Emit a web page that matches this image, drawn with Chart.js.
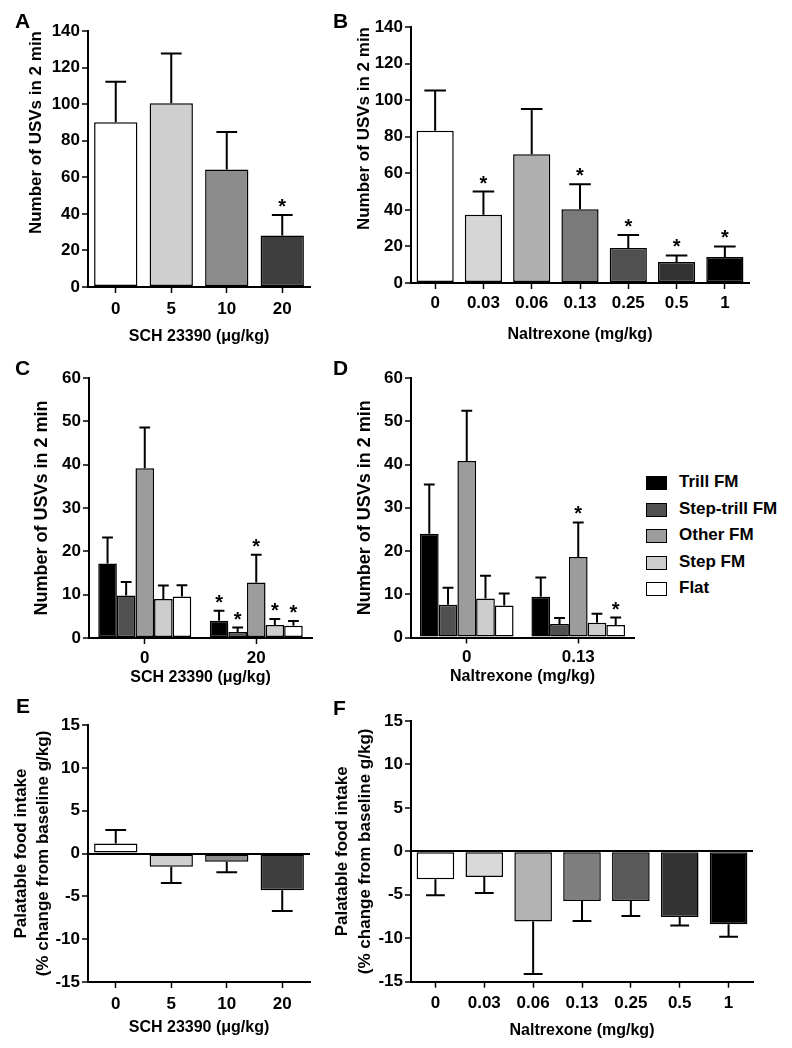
<!DOCTYPE html>
<html>
<head>
<meta charset="utf-8">
<script src="https://cdn.jsdelivr.net/npm/chart.js@4.4.0/dist/chart.umd.min.js"></script>
<style>
  body { margin: 0; background: #fff; width: 792px; height: 1048px; position: relative; overflow: hidden;
         font-family: 'Liberation Sans', Arial, sans-serif; color: #000; }
  canvas { position: absolute; }
  .letter { position: absolute; font-weight: bold; font-size: 21px; line-height: 21px; }
  .legend { position: absolute; left: 646px; top: 470px; }
  .legend .row { position: absolute; left: 0; height: 26px; width: 146px; white-space: nowrap; }
  .legend .box { position: absolute; left: 0; top: 6px; width: 19px; height: 12px; border: 1.5px solid #000; }
  .legend .txt { position: absolute; left: 33px; top: 3px; font-weight: bold; font-size: 17px; line-height: 17px; }
</style>
</head>
<body>
<canvas id="cA"></canvas>
<canvas id="cB"></canvas>
<canvas id="cC"></canvas>
<canvas id="cD"></canvas>
<canvas id="cE"></canvas>
<canvas id="cF"></canvas>
<div class="letter" style="left:15px;top:10px">A</div>
<div class="letter" style="left:333px;top:10px">B</div>
<div class="letter" style="left:15px;top:357px">C</div>
<div class="letter" style="left:333px;top:357px">D</div>
<div class="letter" style="left:16px;top:695px">E</div>
<div class="letter" style="left:333px;top:697px">F</div>
<div class="legend" id="legend"></div>

<script>
// dose labels
const schDoses = ['0', '5', '10', '20'];
const nalDoses = ['0', '0.03', '0.06', '0.13', '0.25', '0.5', '1'];
const schGroups = ['0', '20'];
const nalGroups = ['0', '0.13'];
const callTypes = ['Trill FM', 'Step-trill FM', 'Other FM', 'Step FM', 'Flat'];
const typeColors = ['#000000', '#505050', '#9c9c9c', '#cdcdcd', '#ffffff'];

// A - total USVs after SCH 23390
const usvSch = [90.1, 100.5, 64.2, 28.1];
const usvSchSem = [22.2, 27.2, 20.5, 11.3];
const usvSchStar = [false, false, false, true];
const schColors = ['#ffffff', '#cfcfcf', '#8c8c8c', '#3e3e3e'];

// B - total USVs after naltrexone
const usvNal = [83.3, 37.3, 70.4, 40.4, 19.1, 11.5, 14.2];
const usvNalSem = [22.0, 12.7, 24.7, 13.6, 7.2, 3.6, 5.8];
const usvNalStar = [false, true, false, true, true, true, true];
const nalColors = ['#ffffff', '#d6d6d6', '#b0b0b0', '#7a7a7a', '#505050', '#333333', '#000000'];

// C - call types, SCH 23390 (one row per call type: [0, 20])
const typeSch = [[17.2, 4.0], [9.8, 1.4], [39.2, 12.8], [9.0, 3.0], [9.6, 2.8]];
const typeSchSem = [[6.0, 2.3], [3.1, 1.0], [9.4, 6.4], [3.1, 1.4], [2.6, 1.1]];
const typeSchStar = [[false, true], [false, true], [false, true], [false, true], [false, true]];

// D - call types, naltrexone (one row per call type: [0, 0.13])
const typeNal = [[24.0, 9.4], [7.6, 3.1], [40.8, 18.6], [9.0, 3.4], [7.4, 2.9]];
const typeNalSem = [[11.4, 4.5], [3.9, 1.4], [11.6, 8.0], [5.3, 2.1], [2.8, 1.7]];
const typeNalStar = [[false, false], [false, false], [false, true], [false, false], [false, true]];

// E / F - palatable food intake, % change from baseline
const foodSch = [1.17, -1.56, -0.97, -4.28];
const foodSchSem = [1.56, 1.87, 1.21, 2.42];
const foodNal = [-3.22, -2.95, -8.06, -5.72, -5.72, -7.56, -8.4];
const foodNalSem = [1.84, 1.84, 6.04, 2.3, 1.72, 0.96, 1.42];
const foodNalColors = ['#ffffff', '#d9d9d9', '#b3b3b3', '#7f7f7f', '#595959', '#333333', '#000000'];

const FONT = "'Liberation Sans', Arial, sans-serif";
Chart.defaults.font.family = FONT;
Chart.defaults.color = '#000';

// SEM bars (away from zero) and significance stars
const errorBars = {
  id: 'errorBars',
  afterDatasetsDraw(chart, args, opts) {
    const ctx = chart.ctx;
    const y = chart.scales.y;
    chart.data.datasets.forEach((ds, i) => {
      const meta = chart.getDatasetMeta(i);
      meta.data.forEach((bar, j) => {
        const v = ds.data[j];
        const end = v >= 0 ? v + ds.sem[j] : v - ds.sem[j];
        const y0 = y.getPixelForValue(v);
        const y1 = y.getPixelForValue(end);
        const half = bar.width * opts.capFrac / 2;
        ctx.save();
        ctx.strokeStyle = '#000';
        ctx.lineWidth = 2;
        ctx.beginPath();
        ctx.moveTo(bar.x, y0);
        ctx.lineTo(bar.x, y1);
        ctx.moveTo(bar.x - half, y1);
        ctx.lineTo(bar.x + half, y1);
        ctx.stroke();
        if (ds.stars && ds.stars[j]) {
          ctx.fillStyle = '#000';
          ctx.font = 'bold 20px ' + FONT;
          ctx.textAlign = 'center';
          ctx.textBaseline = 'alphabetic';
          ctx.fillText('*', bar.x, y1 - 2);
        }
        ctx.restore();
      });
    });
  }
};

function makePanel(p) {
  const canvas = document.getElementById(p.id);
  canvas.width = p.w;
  canvas.height = p.h;
  canvas.style.left = p.left + 'px';
  canvas.style.top = p.top + 'px';
  const zero = !!p.zeroLine;
  return new Chart(canvas, {
    type: 'bar',
    data: { labels: p.labels, datasets: p.datasets },
    plugins: [errorBars],
    options: {
      responsive: false,
      animation: false,
      layout: { padding: { top: p.padTop, right: p.padRight, left: 0, bottom: 0 } },
      datasets: {
        bar: {
          barPercentage: p.barPct, categoryPercentage: p.catPct,
          borderColor: '#000', borderWidth: 1.5, borderSkipped: false
        }
      },
      plugins: {
        legend: { display: false },
        tooltip: { enabled: false },
        errorBars: { capFrac: p.capFrac }
      },
      scales: {
        x: {
          afterFit: s => { s.height = p.xH; },
          grid: { drawOnChartArea: false, offset: false, tickLength: 6, tickColor: '#000', tickWidth: 1.5 },
          border: { color: '#000', width: 2 },
          ticks: { font: { size: 17, weight: 'bold' }, color: '#000', padding: p.xTickPad, autoSkip: false, maxRotation: 0 },
          title: { display: true, text: p.xTitle, font: { size: 16, weight: 'bold' }, color: '#000', padding: 0 }
        },
        y: {
          min: p.yMin, max: p.yMax,
          afterFit: s => { s.width = p.yW; },
          grid: {
            drawOnChartArea: zero,
            color: c => (zero && c.tick && c.tick.value === 0) ? '#000' : 'rgba(0,0,0,0)',
            lineWidth: 2, tickLength: 6, tickColor: '#000', tickWidth: 1.5
          },
          border: { color: '#000', width: 2 },
          ticks: { stepSize: p.step, font: { size: 17, weight: 'bold' }, color: '#000', padding: 2 },
          title: {
            display: true, text: p.yTitle, align: p.yAlign,
            font: { size: p.yFont, weight: 'bold', lineHeight: p.yLH }, color: '#000',
            padding: { top: p.yPad, bottom: 0 }
          }
        }
      }
    }
  });
}

function single(values, sem, stars, colors) {
  return [{ data: values, sem: sem, stars: stars, backgroundColor: colors }];
}
function grouped(rows, sems, stars) {
  return callTypes.map((name, k) => ({
    label: name, data: rows[k], sem: sems[k], stars: stars[k], backgroundColor: typeColors[k]
  }));
}

const usvTitle = 'Number of USVs in 2 min';
const foodTitle = ['Palatable food intake', '(% change from baseline g/kg)'];

makePanel({ id: 'cA', left: 0, top: 0, w: 330, h: 346, padTop: 31, padRight: 20, yW: 88, xH: 59, xTickPad: 6,
  labels: schDoses, datasets: single(usvSch, usvSchSem, usvSchStar, schColors),
  yMin: 0, yMax: 140, step: 20, barPct: 0.78, catPct: 1, capFrac: 0.48,
  yTitle: usvTitle, yAlign: 'end', yFont: 17, yLH: 1.2, yPad: 26, xTitle: 'SCH 23390 (\u03bcg/kg)' });

makePanel({ id: 'cB', left: 330, top: 0, w: 462, h: 344, padTop: 27, padRight: 43, yW: 81, xH: 61, xTickPad: 4,
  labels: nalDoses, datasets: single(usvNal, usvNalSem, usvNalStar, nalColors),
  yMin: 0, yMax: 140, step: 20, barPct: 0.77, catPct: 1, capFrac: 0.58,
  yTitle: usvTitle, yAlign: 'end', yFont: 17, yLH: 1.2, yPad: 24, xTitle: 'Naltrexone (mg/kg)' });

makePanel({ id: 'cC', left: 0, top: 340, w: 330, h: 347, padTop: 38, padRight: 18, yW: 89, xH: 49, xTickPad: 4,
  labels: schGroups, datasets: grouped(typeSch, typeSchSem, typeSchStar),
  yMin: 0, yMax: 60, step: 10, barPct: 1, catPct: 0.834, capFrac: 0.58,
  yTitle: usvTitle, yAlign: 'center', yFont: 18, yLH: 1.2, yPad: 31, xTitle: 'SCH 23390 (\u03bcg/kg)' });

makePanel({ id: 'cD', left: 330, top: 340, w: 316, h: 346, padTop: 38, padRight: 12, yW: 81, xH: 48.5, xTickPad: 4,
  labels: nalGroups, datasets: grouped(typeNal, typeNalSem, typeNalStar),
  yMin: 0, yMax: 60, step: 10, barPct: 1, catPct: 0.84, capFrac: 0.58,
  yTitle: usvTitle, yAlign: 'center', yFont: 18, yLH: 1.2, yPad: 24, xTitle: 'Naltrexone (mg/kg)' });

makePanel({ id: 'cE', left: 0, top: 690, w: 330, h: 347, padTop: 35, padRight: 20, yW: 88, xH: 55, xTickPad: 6,
  labels: schDoses, datasets: single(foodSch, foodSchSem, null, schColors), zeroLine: true,
  yMin: -15, yMax: 15, step: 5, barPct: 0.78, catPct: 1, capFrac: 0.48,
  yTitle: foodTitle, yAlign: 'center', yFont: 17, yLH: 1.25, yPad: 11, xTitle: 'SCH 23390 (\u03bcg/kg)' });

makePanel({ id: 'cF', left: 330, top: 690, w: 462, h: 350, padTop: 31, padRight: 39, yW: 81, xH: 58.3, xTickPad: 5,
  labels: nalDoses, datasets: single(foodNal, foodNalSem, null, foodNalColors), zeroLine: true,
  yMin: -15, yMax: 15, step: 5, barPct: 0.77, catPct: 1, capFrac: 0.5,
  yTitle: foodTitle, yAlign: 'center', yFont: 17, yLH: 1.4, yPad: 0, xTitle: 'Naltrexone (mg/kg)' });

// call-type legend beside panel D
const legend = document.getElementById('legend');
callTypes.forEach((name, k) => {
  const row = document.createElement('div');
  row.className = 'row';
  row.style.top = (k * 26.6) + 'px';
  row.innerHTML = '<span class="box" style="background:' + typeColors[k] + '"></span><span class="txt">' + name + '</span>';
  legend.appendChild(row);
});
</script>
</body>
</html>
